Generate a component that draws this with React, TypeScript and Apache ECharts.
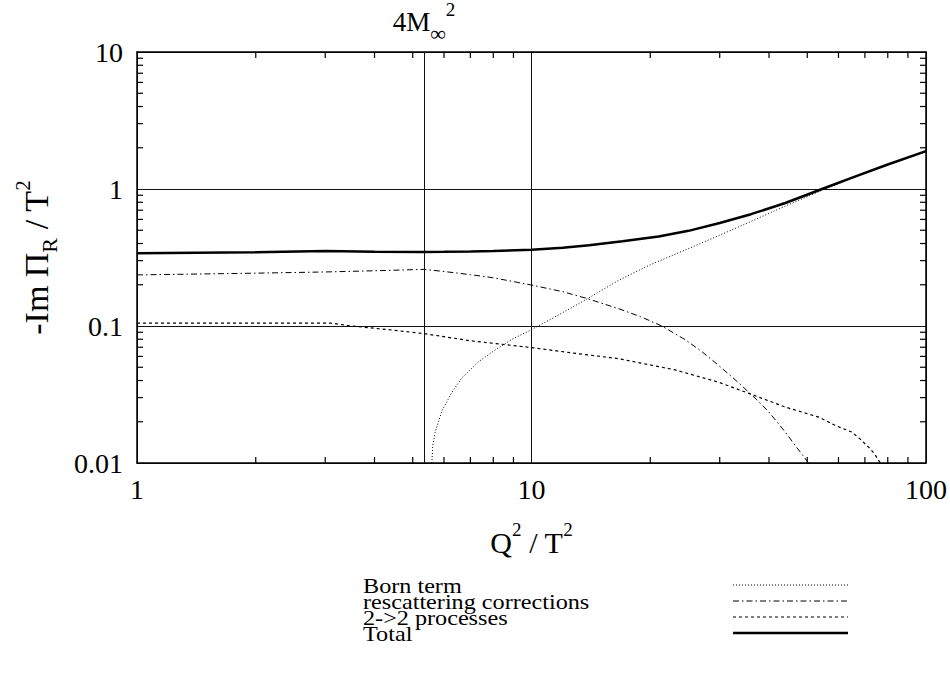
import React, { useEffect, useRef } from "react";
import * as echarts from "echarts";

const FONT = "'Liberation Serif', 'Times New Roman', serif";

// Q^2/T^2 values and series
const bornQ = [5.59, 5.62, 5.71, 5.93, 6.29, 6.67, 7.35, 8.1, 8.93, 9.84, 11.06, 13.7, 16.6, 20, 24.6, 30, 36, 44, 54.5, 65, 80, 100];
const bornV = [0.01, 0.0135, 0.0172, 0.024, 0.033, 0.042, 0.055, 0.067, 0.08, 0.092, 0.11, 0.155, 0.215, 0.28, 0.36, 0.46, 0.58, 0.75, 0.98, 1.2, 1.5, 1.87];

const rescQ = [1, 2, 3, 4, 5.34, 6, 7, 8, 10, 12, 13.8, 16.6, 18.9, 21.4, 24.6, 27.1, 29.8, 33, 36.3, 40, 44, 47, 50.4];
const rescV = [0.236, 0.243, 0.248, 0.253, 0.259, 0.25, 0.237, 0.225, 0.199, 0.178, 0.159, 0.134, 0.117, 0.1, 0.079, 0.0646, 0.0516, 0.04, 0.0311, 0.0235, 0.0168, 0.013, 0.01];

const twoQ = [1, 2, 3.1, 3.5, 4.5, 5.34, 7, 10, 13, 16.6, 23, 29.8, 36.2, 44, 53.5, 58.9, 64.9, 68, 71.6, 74, 76.6];
const twoV = [0.105, 0.105, 0.105, 0.1, 0.093, 0.088, 0.078, 0.0696, 0.063, 0.0578, 0.048, 0.0389, 0.0316, 0.0256, 0.0216, 0.0188, 0.0168, 0.015, 0.013, 0.0117, 0.01];

const totQ = [1, 2, 3, 4, 5.34, 6, 7, 8, 10, 12, 14, 17, 21, 25, 30, 36, 44, 54.5, 65, 80, 100];
const totV = [0.34, 0.345, 0.352, 0.349, 0.347, 0.348, 0.35, 0.353, 0.36, 0.372, 0.388, 0.415, 0.45, 0.495, 0.565, 0.655, 0.79, 1.0, 1.21, 1.51, 1.89];

const thresholdQ = 5.34; // 4 M_inf^2

const xTicks = [2, 3, 4, 5, 6, 7, 8, 9, 20, 30, 40, 50, 60, 70, 80, 90];
const yTicks = [0.02, 0.03, 0.04, 0.05, 0.06, 0.07, 0.08, 0.09, 0.2, 0.3, 0.4, 0.5, 0.6, 0.7, 0.8, 0.9, 2, 3, 4, 5, 6, 7, 8, 9];
const X_MIN = 1, X_MAX = 100, Y_MIN = 0.01, Y_MAX = 10;

const legendNames = ["Born term", "rescattering corrections", "2->2 processes", "Total"];
const dashes: any[] = [[1, 2], [6, 3, 1.5, 3], [3, 3], "solid"];
const widths = [1, 1, 1.2, 2.5];

const zip = (a: number[], b: number[]) => a.map((v, i) => [v, b[i]]);

export default function App() {
  const ref = useRef<HTMLDivElement>(null);
  useEffect(() => {
    document.body.style.margin = "0";
    const chart = echarts.init(ref.current!, null, { renderer: "svg" });
    const axisLine = { show: true, lineStyle: { color: "#000", width: 1.5 } };
    const TL = 6;

    const xBase = { type: "log", logBase: 10, min: X_MIN, max: X_MAX };
    const yBase = { type: "log", logBase: 10, min: Y_MIN, max: Y_MAX };

    const xAxes: any[] = [
      {
        ...xBase,
        position: "bottom",
        axisLine,
        axisTick: { show: false },
        axisLabel: { show: true, margin: 12, fontFamily: FONT, fontSize: 28, color: "#000" },
        splitLine: { show: true, lineStyle: { color: "#111", width: 1 } },
        name: "{a|Q}{s|2}{a| / T}{s|2}",
        nameLocation: "middle",
        nameGap: 57,
        nameTextStyle: {
          fontFamily: FONT,
          color: "#000",
          rich: {
            a: { fontFamily: FONT, fontSize: 30, lineHeight: 44, color: "#000" },
            s: { fontFamily: FONT, fontSize: 19, lineHeight: 19, verticalAlign: "top", color: "#000" },
          },
        },
      },
      {
        ...xBase,
        position: "top",
        axisLine,
        axisTick: { show: false },
        axisLabel: { show: false },
        splitLine: { show: false },
      },
    ];
    const yAxes: any[] = [
      {
        ...yBase,
        position: "left",
        axisLine,
        axisTick: { show: false },
        axisLabel: { show: true, margin: 14, fontFamily: FONT, fontSize: 28, color: "#000" },
        splitLine: { show: true, lineStyle: { color: "#111", width: 1 } },
        name: "{a|-Im \u03A0}{b|R}{a| / T}{s|2}",
        nameLocation: "middle",
        nameRotate: 90,
        nameGap: 77,
        nameTextStyle: {
          fontFamily: FONT,
          color: "#000",
          rich: {
            a: { fontFamily: FONT, fontSize: 34, lineHeight: 48, color: "#000" },
            b: { fontFamily: FONT, fontSize: 22, lineHeight: 22, verticalAlign: "bottom", color: "#000" },
            s: { fontFamily: FONT, fontSize: 21, lineHeight: 21, verticalAlign: "top", color: "#000" },
          },
        },
      },
      {
        ...yBase,
        position: "right",
        axisLine,
        axisTick: { show: false },
        axisLabel: { show: false },
        splitLine: { show: false },
      },
    ];

    const seriesData = [zip(bornQ, bornV), zip(rescQ, rescV), zip(twoQ, twoV), zip(totQ, totV)];
    const series: any[] = seriesData.map((d, i) => ({
      type: "line",
      name: legendNames[i],
      data: d,
      xAxisIndex: 0,
      yAxisIndex: 0,
      symbol: "none",
      showSymbol: false,
      lineStyle: { color: "#000", width: widths[i], type: dashes[i] },
      z: 3,
    }));
    series[3].markLine = {
      silent: true,
      symbol: "none",
      animation: false,
      lineStyle: { color: "#111", width: 1, type: "solid" },
      label: {
        show: true,
        position: "end",
        distance: 8,
        formatter: "{a|4M}{b|\u221E}{s|2}",
        rich: {
          a: { fontFamily: FONT, fontSize: 27, lineHeight: 44, color: "#000" },
          b: { fontFamily: FONT, fontSize: 22, lineHeight: 22, verticalAlign: "bottom", color: "#000" },
          s: { fontFamily: FONT, fontSize: 19, lineHeight: 19, verticalAlign: "top", color: "#000" },
        },
      },
      data: [{ xAxis: thresholdQ }],
    };

    // minor tick marks (mirrored on all four sides)
    series.push({
      type: "custom",
      silent: true,
      xAxisIndex: 0,
      yAxisIndex: 0,
      data: xTicks.map((v) => [v, Y_MIN]),
      renderItem: (params: any, api: any) => {
        const b = api.coord([api.value(0), Y_MIN]);
        const t = api.coord([api.value(0), Y_MAX]);
        const style = { stroke: "#000", lineWidth: 1.2 };
        return {
          type: "group",
          children: [
            { type: "line", shape: { x1: b[0], y1: b[1], x2: b[0], y2: b[1] - TL }, style },
            { type: "line", shape: { x1: t[0], y1: t[1], x2: t[0], y2: t[1] + TL }, style },
          ],
        };
      },
      z: 4,
    });
    series.push({
      type: "custom",
      silent: true,
      xAxisIndex: 0,
      yAxisIndex: 0,
      data: yTicks.map((v) => [X_MIN, v]),
      renderItem: (params: any, api: any) => {
        const l = api.coord([X_MIN, api.value(1)]);
        const r = api.coord([X_MAX, api.value(1)]);
        const style = { stroke: "#000", lineWidth: 1.2 };
        return {
          type: "group",
          children: [
            { type: "line", shape: { x1: l[0], y1: l[1], x2: l[0] + TL, y2: l[1] }, style },
            { type: "line", shape: { x1: r[0], y1: r[1], x2: r[0] - TL, y2: r[1] }, style },
          ],
        };
      },
      z: 4,
    });

    const rowY = [585, 601, 617, 633];
    const graphic: any[] = [];
    legendNames.forEach((n, i) => {
      graphic.push({
        type: "text",
        x: 363,
        y: rowY[i],
        scaleX: 1.1,
        style: {
          text: n,
          fontFamily: FONT,
          fontSize: 22,
          fill: "#000",
          align: "left",
          verticalAlign: "middle",
          textVerticalAlign: "middle",
        },
      });
      graphic.push({
        type: "line",
        shape: { x1: 733, y1: rowY[i], x2: 848, y2: rowY[i] },
        style: {
          stroke: "#000",
          lineWidth: widths[i],
          lineDash: Array.isArray(dashes[i]) ? dashes[i] : null,
        },
      });
    });

    chart.setOption({
      animation: false,
      backgroundColor: "#fff",
      grid: { left: 137, right: 22, top: 52, bottom: 214 },
      xAxis: xAxes,
      yAxis: yAxes,
      series,
      graphic,
    });
    return () => chart.dispose();
  }, []);
  return <div ref={ref} style={{ width: 950, height: 677 }} />;
}
